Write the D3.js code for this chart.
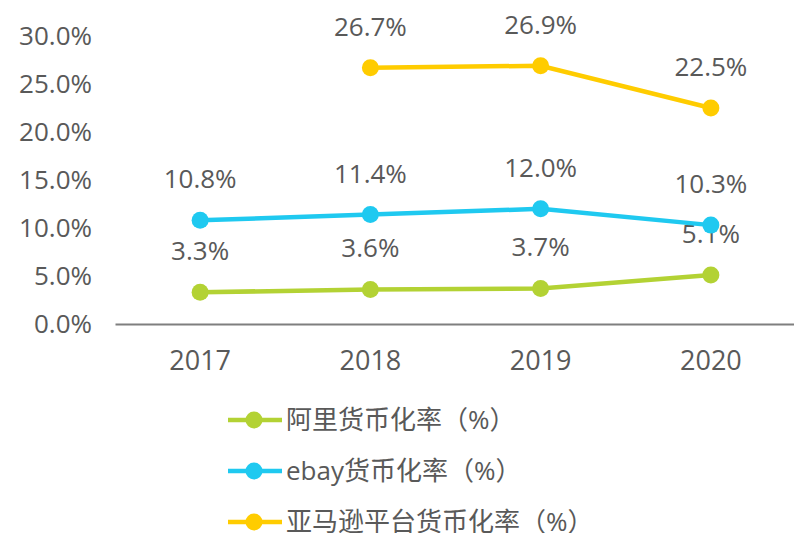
<!DOCTYPE html>
<html lang="zh">
<head>
<meta charset="utf-8">
<title>货币化率</title>
<script src="https://cdn.jsdelivr.net/npm/d3@7"></script>
<style>
  body { margin: 0; background: #fff; }
  text { font-family: "Open Sans", "Noto Sans CJK SC", sans-serif; fill: #595959; }
</style>
</head>
<body>
<script>
  var years = ["2017", "2018", "2019", "2020"];
  var aliRate = [3.3, 3.6, 3.7, 5.1];
  var ebayRate = [10.8, 11.4, 12.0, 10.3];
  var amazonRate = [null, 26.7, 26.9, 22.5];
  var yTicks = [0, 5, 10, 15, 20, 25, 30];
  var seriesNames = ["阿里货币化率（%）", "ebay货币化率（%）", "亚马逊平台货币化率（%）"];
  var seriesColors = ["#b3d234", "#1fc9f0", "#ffcc00"];

  var w = 794, h = 533;
  var svg = d3.select("body").append("svg").attr("width", w).attr("height", h);

  var x = d3.scaleBand().domain(years).range([115, 796]);
  var y = d3.scaleLinear().domain([0, 30]).range([324, 36]);

  //// y axis labels
  svg.append("g").selectAll("text")
    .data(yTicks).enter().append("text")
    .attr("x", 92).attr("y", function(d) { return y(d); })
    .attr("dy", "0.35em")
    .attr("text-anchor", "end")
    .attr("font-size", "26px")
    .text(function(d) { return d.toFixed(1) + "%"; });

  //// x axis
  var xAxis = svg.append("g").attr("transform", "translate(0," + y(0) + ")")
    .call(d3.axisBottom(x).tickSize(0).tickPadding(27));
  xAxis.select(".domain").attr("stroke", "#7f7f7f").attr("stroke-width", 2);
  xAxis.selectAll("text").attr("font-size", "27px").attr("fill", "#595959")
    .attr("font-family", "\"Open Sans\", sans-serif");

  //// lines
  var series = [aliRate, ebayRate, amazonRate];
  var line = d3.line()
    .defined(function(d) { return d != null; })
    .x(function(d, i) { return x(years[i]) + x.bandwidth() / 2; })
    .y(function(d) { return y(d); });

  series.forEach(function(vals, s) {
    var g = svg.append("g");
    g.append("path").attr("d", line(vals))
      .attr("fill", "none").attr("stroke", seriesColors[s]).attr("stroke-width", 4.5);
    var pts = vals.map(function(v, i) { return { v: v, i: i }; })
      .filter(function(d) { return d.v != null; });
    g.selectAll("circle").data(pts).enter().append("circle")
      .attr("cx", function(d) { return x(years[d.i]) + x.bandwidth() / 2; })
      .attr("cy", function(d) { return y(d.v); })
      .attr("r", 8.5)
      .attr("fill", seriesColors[s]);
    g.selectAll("text").data(pts).enter().append("text")
      .attr("x", function(d) { return x(years[d.i]) + x.bandwidth() / 2; })
      .attr("y", function(d) { return y(d.v) - 32; })
      .attr("text-anchor", "middle")
      .attr("font-size", "26px")
      .text(function(d) { return d.v.toFixed(1) + "%"; });
  });

  //// legend
  var legend = svg.append("g").selectAll("g")
    .data(seriesNames).enter().append("g")
    .attr("transform", function(d, i) { return "translate(228," + (420 + i * 51) + ")"; });
  legend.append("line").attr("x1", 0).attr("x2", 54).attr("y1", 0).attr("y2", 0)
    .attr("stroke", function(d, i) { return seriesColors[i]; }).attr("stroke-width", 4.5);
  legend.append("circle").attr("cx", 26).attr("cy", 0).attr("r", 8.5)
    .attr("fill", function(d, i) { return seriesColors[i]; });
  legend.append("text").attr("x", 58).attr("y", 0).attr("dy", "0.35em")
    .attr("font-size", "26px")
    .text(function(d) { return d; });
</script>
</body>
</html>
